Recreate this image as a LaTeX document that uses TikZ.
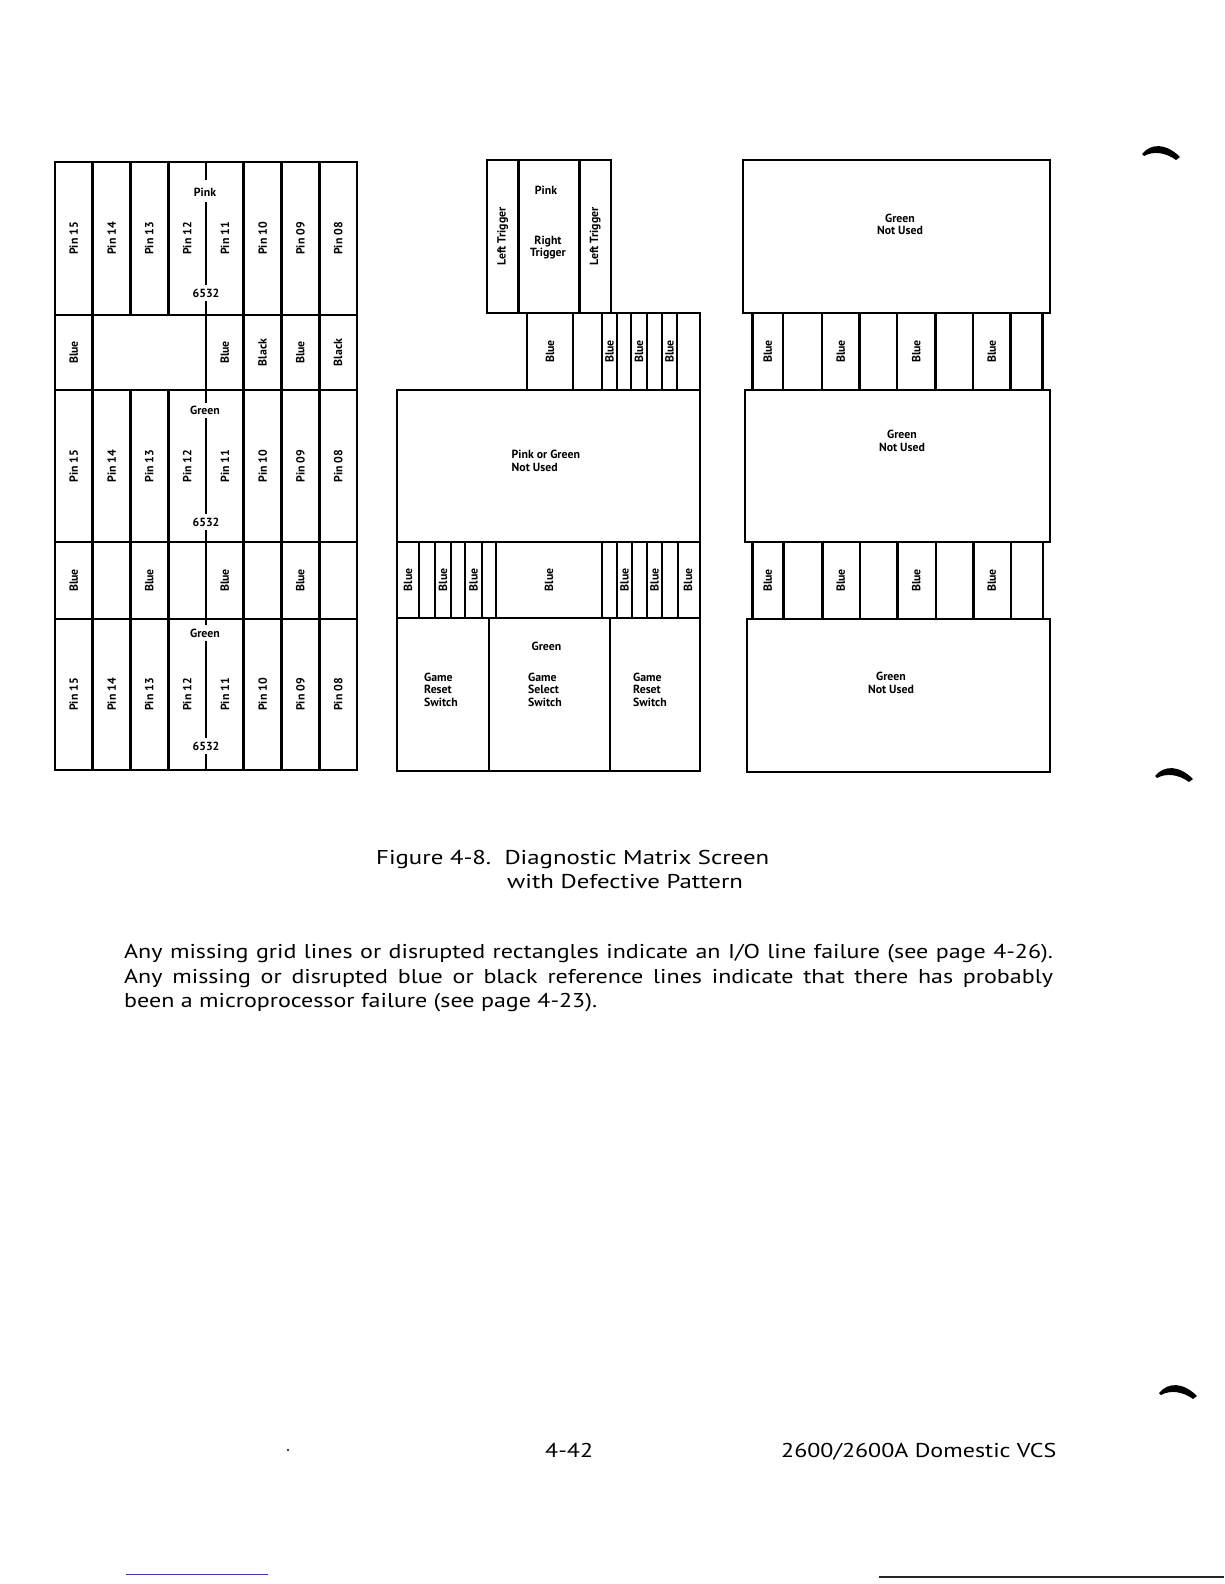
\documentclass[tikz,border=0pt]{standalone}
\usepackage{fontspec}
\setmainfont{PT Sans}
\newcommand\bodywide[1]{\scalebox{1.2}[1]{#1}}
\newcommand\capwide[1]{\scalebox{1.24}[1]{#1}}
\begin{document}
\begin{tikzpicture}[x=1pt,y=-1pt,
  ln/.style={line width=2.8pt, line cap=rect},
  lbl/.style={font=\fontsize{11.8}{12.5}\selectfont\bfseries, inner sep=0pt},
  vl/.style={lbl, rotate=90},
  body/.style={font=\fontsize{20}{24}\selectfont, inner sep=0pt, anchor=base west},
  pagemark/.style={fill=black}]
\useasboundingbox (0,0) rectangle (1224,1584);
\fill[white] (0,0) rectangle (1224,1584);

% ---------------- left panel ----------------
\draw[ln] (55,162) rectangle (357,770);
\foreach \y in {315,390,542,619} \draw[ln] (55,\y) -- (357,\y);
\foreach \x in {92.75,243.75,281.5,319.25} \draw[ln] (\x,162) -- (\x,770);
\foreach \x in {130.5,168.25} {\draw[ln] (\x,162) -- (\x,315); \draw[ln] (\x,390) -- (\x,770);}
% centre line (6532 data line) with gaps for labels
\foreach \a/\b in {162/179,203/284,302/402,419/513,531/624,642/737,755/770}
  \draw[ln] (206,\a) -- (206,\b);
\node[lbl] (pinkA) at (205,192) {Pink};
\node[lbl] (cpuA) at (206,293) {6532};
\node[lbl] (greenB) at (205,410) {Green};
\node[lbl] (cpuB) at (206,522) {6532};
\node[lbl] (greenC) at (205,633) {Green};
\node[lbl] (cpuC) at (206,746) {6532};
% pin labels
\foreach \r/\yc in {A/238.5,B/466,C/694.5}
  \foreach \i/\p in {1/15,2/14,3/13,4/12,5/11,6/10,7/09,8/08} {
    \pgfmathsetmacro{\xc}{55+37.75*(\i-0.5)}
    \node[vl] (pin\r\p) at (\xc,\yc) {Pin \p};
  }
% blue / black row 1
\foreach \i/\t in {1/Blue,5/Blue,6/Black,7/Blue,8/Black} {
  \pgfmathsetmacro{\xc}{55+37.75*(\i-0.5)}
  \node[vl] (refA\i) at (\xc,352.5) {\t};
}
% blue row 2
\foreach \i in {1,3,5,7} {
  \pgfmathsetmacro{\xc}{55+37.75*(\i-0.5)}
  \node[vl] (refB\i) at (\xc,580.5) {Blue};
}

% ---------------- middle panel ----------------
\draw[ln] (487,160) rectangle (611,313);
\foreach \x in {518.5,579.5} \draw[ln] (\x,160) -- (\x,313);
\draw[ln] (527,313) rectangle (700,390);
\foreach \x in {573,602,617,631,647,662,677} \draw[ln] (\x,313) -- (\x,390);
\draw[ln] (397,390) rectangle (700,542);
\draw[ln] (397,542) rectangle (700,618);
\foreach \x in {419,435,451,465,482,496,602,617,632,647,662,678} \draw[ln] (\x,542) -- (\x,618);
\draw[ln] (397,618) rectangle (700,771);
\foreach \x in {489,610} \draw[ln] (\x,618) -- (\x,771);

\node[vl] (ltrigA) at (502.75,236.5) {Left Trigger};
\node[vl] (ltrigB) at (595.25,236.5) {Left Trigger};
\node[lbl] (pinkM) at (546,190) {Pink};
\node[lbl, align=center] (rtrig) at (548,247.5) {Right\\Trigger};
\foreach \n/\x in {a/550,b/609.5,c/639,d/669.5}
  \node[vl] (mb1\n) at (\x,351.5) {Blue};
\node[lbl, align=left, anchor=north west] (pog) at (511.5,450) {Pink or Green\\Not Used};
\foreach \n/\x in {a/408,b/443,c/473.5,d/549,e/624.5,f/654.5,g/688}
  \node[vl] (mb2\n) at (\x,580) {Blue};
\node[lbl, align=left, anchor=west] (greset1) at (424,689.5) {Game\\Reset\\Switch};
\node[lbl] (greenM) at (546.5,646.5) {Green};
\node[lbl, align=left, anchor=west] (gselect) at (528,689.5) {Game\\Select\\Switch};
\node[lbl, align=left, anchor=west] (greset2) at (633,689.5) {Game\\Reset\\Switch};

% ---------------- right panel ----------------
\draw[ln] (743,160) rectangle (1050,313);
\foreach \x in {752.5,783,822,859.5,897,935.5,973,1010.5,1042.5} \draw[ln] (\x,313) -- (\x,390);
\draw[ln] (745,390) rectangle (1050,542);
\foreach \x in {752.5,783.5,822.5,860,897.5,936,973.5,1011,1043} \draw[ln] (\x,542) -- (\x,619);
\draw[ln] (747,619) rectangle (1050,772);
\node[lbl, align=center] (gnuA) at (900,224.5) {Green\\Not Used};
\node[lbl, align=center] (gnuB) at (902,441) {Green\\Not Used};
\node[lbl, align=center] (gnuC) at (891,683) {Green\\Not Used};
\foreach \n/\x in {a/767.75,b/840.75,c/916.25,d/991.75} {
  \node[vl] (rb1\n) at (\x,351.5) {Blue};
  \node[vl] (rb2\n) at (\x,580.5) {Blue};
}

% ---------------- caption and text ----------------
\node[body] (cap1) at (376,864) {\capwide{Figure 4-8.\ \ Diagnostic Matrix Screen}};
\node[body] (cap2) at (507,888.5) {\capwide{with Defective Pattern}};
\node[body] (t1) at (124,958) {\bodywide{\makebox[774pt][s]{Any missing grid lines or disrupted rectangles indicate an I/O line failure (see page 4-26).}}};
\node[body] (t2) at (124,983) {\bodywide{\makebox[774pt][s]{Any missing or disrupted blue or black reference lines indicate that there has probably}}};
\node[body] (t3) at (124,1007.5) {\bodywide{been a microprocessor failure (see page 4-23).}};
\node[body] (pg) at (545,1457) {\bodywide{4-42}};
\node[body] (model) at (781,1457) {\bodywide{2600/2600A Domestic VCS}};
\fill (288,1450) circle (1.2);

% page marks
\foreach \mx/\my in {1142/154,1155/776,1159/1393}
  \fill[pagemark, shift={(\mx,\my)}] (0,0) .. controls (9,-11) and (24,-11) .. (38,3)
     -- (34,6) .. controls (23,-2) and (11,-3) .. (2,2) -- cycle;

% bottom rules
\draw[blue!55!gray, line width=1pt] (126,1574) -- (268,1574);
\draw[black!85, line width=1.5pt] (879,1577) -- (1224,1577);
\end{tikzpicture}
\end{document}
